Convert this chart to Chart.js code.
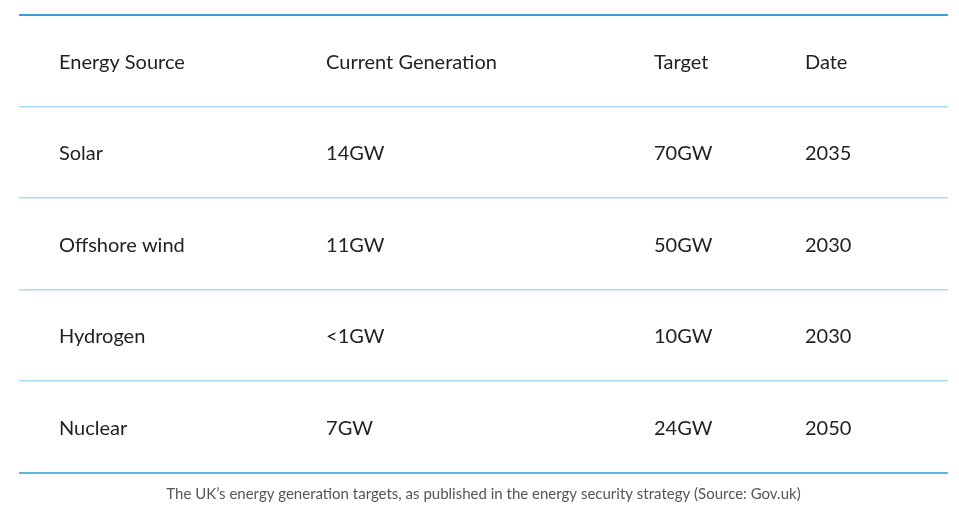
<!DOCTYPE html>
<html>
<head>
<meta charset="utf-8">
<script src="https://cdn.jsdelivr.net/npm/chart.js@4/dist/chart.umd.min.js"></script>
<style>
  html, body { margin: 0; padding: 0; background: #fff; }
  #wrap { width: 959px; height: 515px; }
</style>
</head>
<body>
<div id="wrap"><canvas id="tableChart"></canvas></div>
<script>
// Table contents
const headers = ['Energy Source', 'Current Generation', 'Target', 'Date'];
const sources = ['Solar', 'Offshore wind', 'Hydrogen', 'Nuclear'];
const currentGeneration = ['14GW', '11GW', '<1GW', '7GW'];
const targets = ['70GW', '50GW', '10GW', '24GW'];
const dates = ['2035', '2030', '2030', '2050'];
const caption = 'The UK\u2019s energy generation targets, as published in the energy security strategy (Source: Gov.uk)';

// Layout: left edge of each column on a 0-100 x scale
const columnLeft = [4.3, 33.05, 68.35, 84.6];

const rowLabels = [headers[0]].concat(sources);
const columns = [sources, currentGeneration, targets, dates];

const datasets = columns.map((col, c) => ({
  label: headers[c],
  texts: [headers[c]].concat(col),
  data: rowLabels.map(r => ({ x: columnLeft[c], y: r })),
  pointRadius: 0,
  showLine: false
}));

// draw each cell's text where the scales put its point
const cellText = {
  id: 'cellText',
  afterDatasetsDraw(chart) {
    const ctx = chart.ctx;
    ctx.save();
    ctx.font = '20px Lato';
    ctx.fillStyle = '#222';
    ctx.textAlign = 'left';
    ctx.textBaseline = 'middle';
    chart.data.datasets.forEach((ds, i) => {
      chart.getDatasetMeta(i).data.forEach((pt, j) => {
        ctx.fillText(ds.texts[j], pt.x, pt.y + 1.5);
      });
    });
    ctx.restore();
  }
};

// top rule is index 0, the closing rule has no tick (index undefined)
const isTop = ctx => ctx.index === 0;
const isBottom = ctx => ctx.index === undefined;

new Chart(document.getElementById('tableChart'), {
  type: 'scatter',
  data: { datasets: datasets },
  plugins: [cellText],
  options: {
    responsive: true,
    maintainAspectRatio: false,
    animation: false,
    events: [],
    layout: { padding: { left: 19, right: 11, top: 15, bottom: 0 } },
    plugins: {
      legend: { display: false },
      tooltip: { enabled: false },
      title: {
        display: true,
        position: 'bottom',
        text: caption,
        color: '#555',
        font: { family: 'Lato', size: 15, weight: 'normal' },
        padding: { top: 12.5, bottom: 12 }
      }
    },
    scales: {
      x: { type: 'linear', min: 0, max: 100, display: false },
      y: {
        type: 'category',
        labels: rowLabels,
        offset: true,
        border: { display: false },
        ticks: { display: false },
        grid: {
          offset: true,
          drawTicks: false,
          color: ctx => isTop(ctx) ? '#3a9fd8' : (isBottom(ctx) ? '#5bb7e0' : '#a9dbf1'),
          lineWidth: ctx => (isTop(ctx) || isBottom(ctx)) ? 2 : 1.5
        }
      }
    }
  }
});
</script>
</body>
</html>
